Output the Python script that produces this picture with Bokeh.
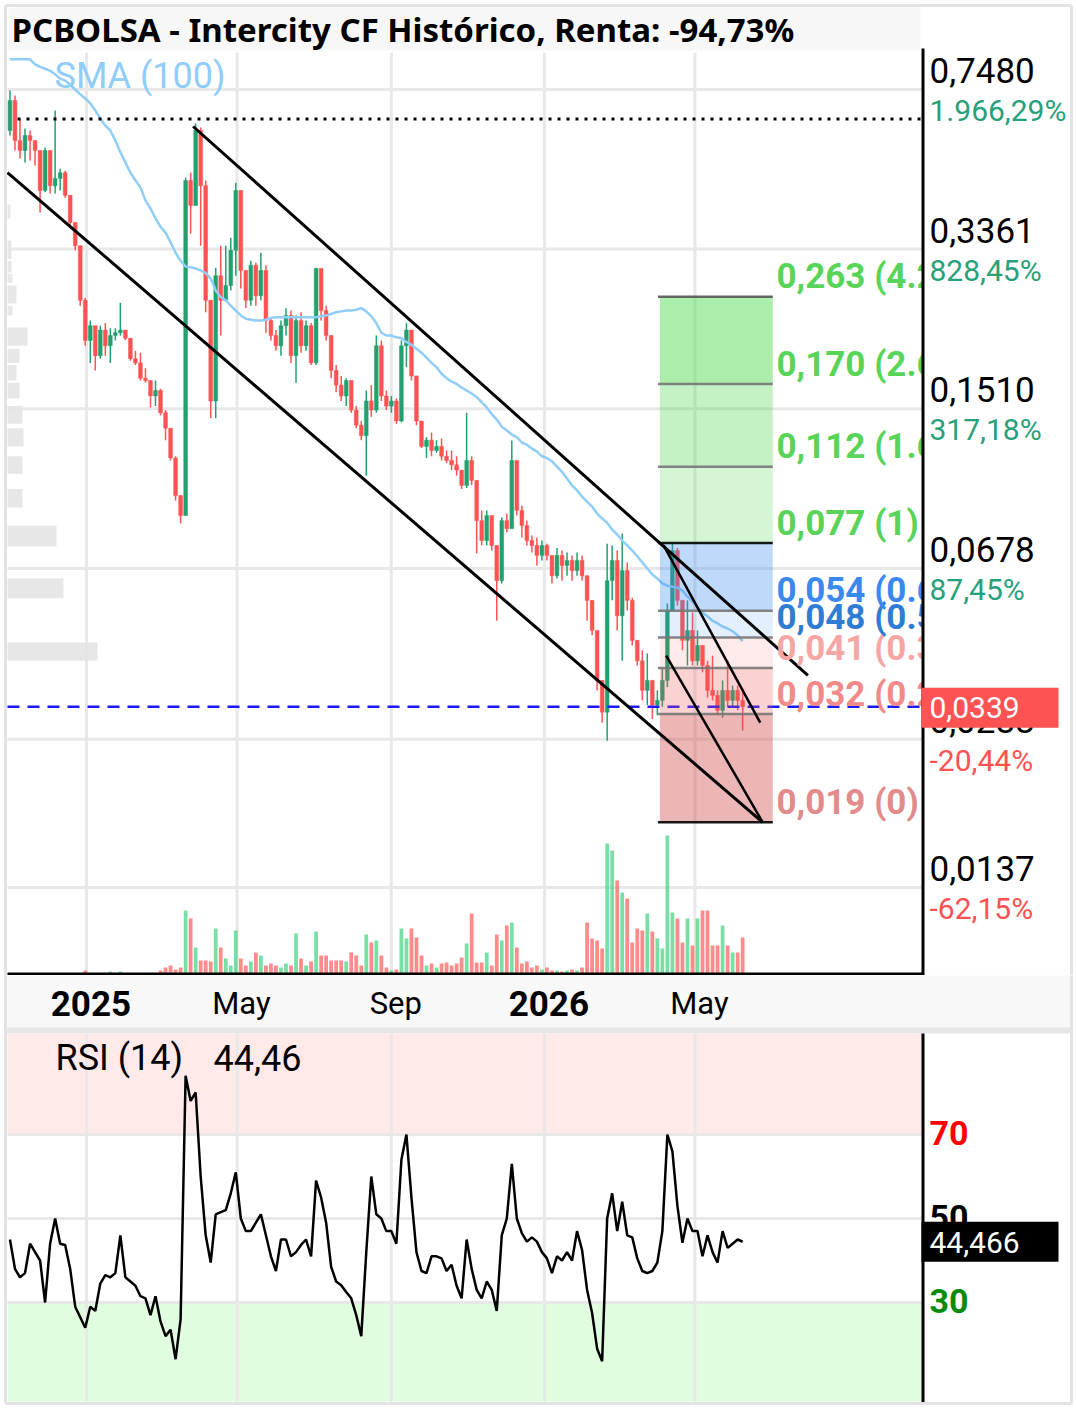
import math
import pandas as pd
from bokeh.plotting import figure
from bokeh.layouts import column
from bokeh.models import Range1d, LinearScale, LogScale
from bokeh.core.properties import value
from bokeh.embed import file_html
from bokeh.resources import INLINE

# ---------------- chart data ----------------
TITLE = "PCBOLSA - Intercity CF Histórico, Renta: -94,73%"
candle_start = "2024-11-01"
candle_step = "4D"
first_open = 0.609

close = [
    0.708, 0.579, 0.551, 0.594, 0.579, 0.551, 0.451, 0.551, 0.462, 0.479,
    0.493, 0.440, 0.384, 0.342, 0.260, 0.2126, 0.229, 0.197, 0.224, 0.207,
    0.218, 0.221, 0.224, 0.215, 0.194, 0.190, 0.176, 0.174, 0.161, 0.1655,
    0.148, 0.137, 0.118, 0.0977, 0.0884, 0.474, 0.418, 0.609, 0.462, 0.260,
    0.157, 0.294, 0.260, 0.280, 0.334, 0.451, 0.302, 0.260, 0.310, 0.266,
    0.302, 0.235, 0.218, 0.207, 0.229, 0.241, 0.197, 0.235, 0.207, 0.229,
    0.190, 0.305, 0.247, 0.218, 0.183, 0.170, 0.161, 0.174, 0.150, 0.139,
    0.132, 0.157, 0.150, 0.207, 0.161, 0.153, 0.157, 0.142, 0.207, 0.224,
    0.178, 0.142, 0.125, 0.129, 0.1225, 0.125, 0.119, 0.1165, 0.114, 0.111,
    0.1028, 0.1165, 0.1054, 0.0862, 0.078, 0.0884, 0.0761, 0.0638, 0.0862, 0.0828,
    0.1165, 0.0907, 0.0841, 0.078, 0.0761, 0.0724, 0.0761, 0.0724, 0.0654, 0.0724,
    0.0688, 0.0706, 0.0671, 0.0706, 0.0654, 0.0578, 0.0497, 0.0387, 0.0330, 0.0638,
    0.0706, 0.0535, 0.0671, 0.0578, 0.0473, 0.0427, 0.0368, 0.0387, 0.0342, 0.035,
    0.0387, 0.0549, 0.0742, 0.0578, 0.0473, 0.0497, 0.0427, 0.0461, 0.0417, 0.0368,
    0.0359, 0.0333, 0.0368, 0.035, 0.0368, 0.035, 0.0339,
]
high = [
    0.744, 0.726, 0.647, 0.615, 0.609, 0.579, 0.511, 0.559, 0.551, 0.673,
    0.503, 0.498, 0.440, 0.384, 0.342, 0.263, 0.235, 0.229, 0.229, 0.232,
    0.226, 0.226, 0.257, 0.224, 0.215, 0.202, 0.200, 0.185, 0.171, 0.174,
    0.167, 0.150, 0.129, 0.119, 0.0977, 0.481, 0.493, 0.631, 0.618, 0.474,
    0.260, 0.306, 0.342, 0.342, 0.356, 0.469, 0.429, 0.302, 0.317, 0.314,
    0.330, 0.310, 0.238, 0.224, 0.235, 0.250, 0.247, 0.241, 0.245, 0.235,
    0.232, 0.306, 0.299, 0.253, 0.218, 0.188, 0.178, 0.176, 0.170, 0.153,
    0.142, 0.1655, 0.170, 0.218, 0.2126, 0.1655, 0.161, 0.159, 0.2126, 0.232,
    0.224, 0.178, 0.142, 0.131, 0.134, 0.129, 0.130, 0.1225, 0.1225, 0.119,
    0.111, 0.148, 0.119, 0.103, 0.0907, 0.0907, 0.0884, 0.0761, 0.0875, 0.0893,
    0.1288, 0.1165, 0.093, 0.0862, 0.080, 0.0792, 0.078, 0.0768, 0.0724, 0.0751,
    0.0742, 0.0735, 0.0724, 0.0735, 0.0724, 0.0654, 0.0578, 0.0497, 0.0387, 0.0768,
    0.0761, 0.0742, 0.0808, 0.0699, 0.0586, 0.0473, 0.045, 0.0443, 0.0381, 0.0368,
    0.0413, 0.0569, 0.0768, 0.0751, 0.0578, 0.0578, 0.0544, 0.0497, 0.0461, 0.0427,
    0.0438, 0.0368, 0.0387, 0.0427, 0.0377, 0.0377, 0.0372,
]
low = [
    0.594, 0.551, 0.529, 0.519, 0.524, 0.511, 0.404, 0.447, 0.444, 0.444,
    0.451, 0.435, 0.378, 0.334, 0.253, 0.207, 0.190, 0.183, 0.194, 0.197,
    0.190, 0.2126, 0.218, 0.213, 0.192, 0.188, 0.174, 0.172, 0.152, 0.153,
    0.146, 0.129, 0.1165, 0.0953, 0.085, 0.0884, 0.363, 0.429, 0.342, 0.245,
    0.144, 0.144, 0.218, 0.273, 0.273, 0.294, 0.276, 0.250, 0.253, 0.253,
    0.260, 0.221, 0.2126, 0.202, 0.197, 0.218, 0.190, 0.172, 0.200, 0.202,
    0.188, 0.188, 0.235, 0.2126, 0.176, 0.164, 0.157, 0.153, 0.148, 0.137,
    0.129, 0.108, 0.145, 0.148, 0.157, 0.150, 0.148, 0.140, 0.141, 0.186,
    0.174, 0.139, 0.124, 0.118, 0.119, 0.121, 0.1165, 0.115, 0.111, 0.108,
    0.101, 0.1015, 0.103, 0.0731, 0.0761, 0.0761, 0.0742, 0.0522, 0.0629, 0.0812,
    0.0907, 0.0884, 0.0792, 0.0761, 0.0735, 0.0688, 0.0706, 0.0706, 0.0629, 0.0645,
    0.0638, 0.0654, 0.0638, 0.0654, 0.0638, 0.0522, 0.0485, 0.0368, 0.0313, 0.0286,
    0.0578, 0.0497, 0.0427, 0.0549, 0.0461, 0.0417, 0.035, 0.0342, 0.0319, 0.0325,
    0.0339, 0.0374, 0.0549, 0.0563, 0.045, 0.0417, 0.0417, 0.0417, 0.0403, 0.0355,
    0.035, 0.0325, 0.0321, 0.0339, 0.0337, 0.0333, 0.0301,
]
volume = [
    0, 0, 0, 0, 0, 0, 0, 0, 0, 0,
    0, 0, 0, 0, 0, 5, 0, 0, 0, 0,
    4, 0, 4, 0, 0, 0, 0, 0, 0, 0,
    5, 8, 10, 6, 8, 65, 57, 28, 15, 15,
    14, 47, 28, 17, 10, 45, 17, 10, 14, 23,
    20, 10, 12, 10, 8, 12, 10, 42, 17, 10,
    14, 44, 20, 20, 15, 15, 15, 14, 23, 20,
    10, 41, 33, 35, 20, 8, 5, 6, 47, 37,
    47, 38, 20, 10, 12, 8, 12, 13, 10, 12,
    18, 32, 62, 13, 13, 23, 10, 41, 35, 50,
    53, 28, 12, 14, 8, 10, 6, 8, 5, 5,
    4, 5, 6, 5, 8, 53, 37, 35, 27, 132,
    125, 95, 83, 77, 33, 47, 45, 62, 44, 37,
    27, 140, 63, 57, 33, 57, 30, 57, 65, 65,
    30, 30, 50, 30, 23, 23, 38,
]
rsi = [
    45, 38, 36, 37, 44, 42, 40, 30, 44, 50,
    44, 43.7, 38, 29, 26.5, 24, 29, 28, 34.5, 36.5,
    36, 37, 46, 36, 35, 34, 31.5, 31, 27, 31.5,
    25.5, 22, 23.5, 16.5, 26, 84, 78, 80, 60, 46,
    39.5, 51, 51.5, 52, 56, 61, 50, 47, 47, 49,
    51, 46, 41, 37.5, 45, 45, 41, 42, 43.7, 45,
    41, 59, 55, 49, 38.5, 35, 34.1, 32.5, 31, 27,
    22, 42, 60, 51, 50, 47, 47, 44, 64, 70,
    55, 42, 37.5, 37, 41, 41, 40.5, 37.5, 39, 34,
    31, 45, 38, 33, 31, 35, 33, 28, 46, 50,
    63, 50, 46.5, 44.5, 45.5, 44.5, 42, 40.5, 37, 41,
    40, 42, 40, 47, 42.5, 33, 27.5, 19, 16, 50,
    56, 47, 54, 46, 45.5, 40.5, 37.5, 37, 37.5, 39.5,
    47, 70, 66, 53, 44.2, 50, 47, 47, 41, 46,
    42, 39.5, 47, 43, 44, 45, 44.466,
]
sma100 = [
    0.870, 0.870, 0.870, 0.870, 0.870, 0.848, 0.838, 0.830, 0.822, 0.807,
    0.790, 0.782, 0.767, 0.748, 0.730, 0.715, 0.698, 0.673, 0.647, 0.624,
    0.609, 0.579, 0.546, 0.519, 0.493, 0.474, 0.458, 0.429, 0.412, 0.392,
    0.376, 0.365, 0.348, 0.330, 0.317, 0.308, 0.307, 0.305, 0.302, 0.298,
    0.290, 0.273, 0.264, 0.260, 0.253, 0.247, 0.241, 0.237, 0.236, 0.235,
    0.235, 0.236, 0.238, 0.239, 0.239, 0.239, 0.239, 0.239, 0.239, 0.239,
    0.239, 0.239, 0.240, 0.241, 0.243, 0.245, 0.246, 0.247, 0.247, 0.248,
    0.250, 0.246, 0.240, 0.232, 0.221, 0.218, 0.218, 0.216, 0.215, 0.211,
    0.208, 0.204, 0.200, 0.195, 0.190, 0.186, 0.180, 0.176, 0.173, 0.171,
    0.168, 0.1655, 0.163, 0.160, 0.156, 0.152, 0.147, 0.143, 0.138, 0.1354,
    0.1327, 0.131, 0.1275, 0.126, 0.1237, 0.122, 0.119, 0.118, 0.116, 0.113,
    0.110, 0.1065, 0.1028, 0.1003, 0.0972, 0.0948, 0.0925, 0.0893, 0.0871, 0.0853,
    0.0824, 0.0804, 0.078, 0.0761, 0.0742, 0.0721, 0.0699, 0.0678, 0.0658, 0.0645,
    0.0629, 0.0622, 0.0619, 0.0616, 0.0607, 0.0589, 0.0575, 0.0558, 0.0544, 0.0533,
    0.0522, 0.0515, 0.0507, 0.0502, 0.0495, 0.0485, 0.0471,
]

# volume-by-price profile at the left edge
vp_top = [0.420, 0.351, 0.317, 0.297, 0.280, 0.253, 0.227, 0.204, 0.188, 0.172,
          0.153, 0.137, 0.119, 0.101, 0.084, 0.0645, 0.0468]
vp_bottom = [0.392, 0.320, 0.299, 0.284, 0.256, 0.241, 0.207, 0.190, 0.174, 0.159,
             0.140, 0.125, 0.109, 0.092, 0.0757, 0.0584, 0.0427]
vp_volume = [3, 4, 4, 5, 9, 5, 20, 12, 9, 12, 15, 16, 15, 15, 49, 56, 90]

# right price axis
tick_prices = [0.748, 0.3361, 0.151, 0.0678, 0.0288, 0.0137]
tick_labels = ["0,7480", "0,3361", "0,1510", "0,0678", "0,0288", "0,0137"]
tick_pcts = ["1.966,29%", "828,45%", "317,18%", "87,45%", "-20,44%", "-62,15%"]
last_price = 0.0339
last_label = "0,0339"
prev_high_line = 0.645

# time axis
month_ticks = ["2025-01-01", "2025-05-01", "2025-09-01", "2026-01-01", "2026-05-01"]
month_labels = ["2025", "May", "Sep", "2026", "May"]
month_bold = [True, False, False, True, False]

# fibonacci extension tool
fib_low, fib_high = 0.019, 0.077
fib_ratios = [0, 0.236, 0.382, 0.5, 0.618, 1, 1.618, 2.618, 4.236]
fib_labels = ["0,019 (0)", "0,032 (0.236)", "0,041 (0.382)", "0,048 (0.5)",
              "0,054 (0.618)", "0,077 (1)", "0,112 (1.618)", "0,170 (2.618)",
              "0,263 (4.236)"]
fib_text_colors = ["#e38a8a", "#f28a8a", "#f7a6a6", "#2f7cd4", "#3b88f0",
                   "#58d458", "#58d458", "#58d458", "#58d458"]
fib_line_colors = ["black", "#777777", "#777777", "#777777", "#777777",
                   "black", "#777777", "#777777", "#555555"]
fib_zone_colors = ["#d04848", "#f05a5a", "#f05a5a", "#3d8cf0", "#3d8cf0",
                   "#4cd94c", "#4cd94c", "#4cd94c"]
fib_zone_alpha = [0.40, 0.27, 0.13, 0.14, 0.33, 0.24, 0.33, 0.47]
fib_start, fib_end = "2026-04-03", "2026-07-02"

# drawn trend lines: (date0, price0, date1, price1, width)
trend_lines = [
    ("2025-03-27", 0.6214, "2026-07-30", 0.0397, 3),
    ("2024-10-30", 0.4932, "2026-06-24", 0.0190, 3),
    ("2026-04-06", 0.0761, "2026-06-22", 0.0313, 2.5),
    ("2026-04-08", 0.0438, "2026-06-24", 0.0190, 2.5),
]

rsi_levels = [70, 50, 30]
rsi_level_colors = ["#ff0000", "black", "#0a8c0a"]
rsi_title = "RSI (14)"
rsi_legend_value = "44,46"
rsi_last_label = "44,466"

# ---------------- helpers ----------------
assert len(close) == len(high) == len(low) == len(volume) == len(rsi) == len(sma100)
origin = pd.Timestamp("2025-01-01")


def day_of(s):
    return (pd.Timestamp(s) - origin).days


dates = pd.date_range(candle_start, periods=len(close), freq=candle_step)
days = [(d - origin).days for d in dates]
month_days = [day_of(s) for s in month_ticks]

W, H1, H2 = 1076, 975, 434
PXD, X0PX = 1.2546, 86.0
Y_REF, P_REF, PX_DEC = 89.0, 0.748, 459.4


def X(px):
    return (px - X0PX) / PXD


def P(py):
    return P_REF * 10 ** (-(py - Y_REF) / PX_DEC)


def PY(p):
    return Y_REF - PX_DEC * math.log10(p / P_REF)


def R(py):
    return 50 + (1218 - py) / 4.2


def RY(r):
    return 1218 - (r - 50) * 4.2


def txt(fig, x, y, s, size, color, style="normal", align="left", font="Roboto"):
    fig.text(x=[x], y=[y], text=[s], text_font=value(font), text_font_size=f"{size}px",
             text_color=color, text_font_style=style, text_align=align,
             text_baseline="middle")


GRID = "#e8e8e8"
UP, DOWN = "#22a06e", "#ff5252"

# ---------------- main price figure ----------------
xr = Range1d(X(0), X(W))
p = figure(width=W, height=H1, x_range=xr, y_range=Range1d(P(H1), P(0)),
           y_axis_type="log", x_axis_location=None, y_axis_location=None,
           toolbar_location=None, output_backend="svg", min_border=0,
           outline_line_color=None, background_fill_color="white",
           border_fill_color="white")
p.y_scale = LogScale()
p.grid.visible = False
p.extra_y_ranges = {"vol": Range1d(0, H1)}
p.extra_y_scales = {"vol": LinearScale()}
p.extra_x_ranges = {"vp": Range1d(-7, W - 7)}
p.extra_x_scales = {"vp": LinearScale()}

# title bar
p.quad(left=X(8), right=X(920), top=P(7), bottom=P(50), fill_color="#f7f7f7", line_color=None)
txt(p, X(11), P(29), TITLE, 33, "black", "bold", font="Noto Sans")

# grid
p.segment(x0=[X(7)] * len(tick_prices), y0=tick_prices, x1=[X(922)] * len(tick_prices),
          y1=tick_prices, line_color=GRID, line_width=3)
p.segment(x0=month_days, y0=[P(52)] * 5, x1=month_days, y1=[P(973)] * 5,
          line_color=GRID, line_width=3)

# volume profile
p.quad(left=[0] * len(vp_volume), right=vp_volume, top=vp_top, bottom=vp_bottom,
       x_range_name="vp", fill_color="#e4e4e4", fill_alpha=0.9, line_color=None)

# candles
opens = [first_open] + close[:-1]
colors = [UP if c >= o else DOWN for o, c in zip(opens, close)]
hi = [max(h, o, c) for h, o, c in zip(high, opens, close)]
lo = [min(l_, o, c) for l_, o, c in zip(low, opens, close)]
top = [max(o, c) for o, c in zip(opens, close)]
bot = [min(o, c) for o, c in zip(opens, close)]

vcolors = ["#3fd27f" if c == UP else "#ff5a5a" for c in colors]
p.vbar(x=days, top=volume, bottom=0, width=3.0, y_range_name="vol",
       fill_color=vcolors, fill_alpha=0.7, line_color=None)

p.segment(x0=days, y0=lo, x1=days, y1=hi, line_color=colors, line_width=1.5)
p.vbar(x=days, top=top, bottom=bot, width=3.0, fill_color=colors, line_color=colors,
       line_width=0.5)

# SMA
p.line(days, sma100, line_color="#90cdf9", line_width=2.5)

# reference lines
p.segment(x0=[X(17)], y0=[prev_high_line], x1=[X(922)], y1=[prev_high_line],
          line_color="black", line_width=3, line_dash="3 6")
p.segment(x0=[X(7)], y0=[last_price], x1=[X(920)], y1=[last_price],
          line_color="#1a1aff", line_width=2.5, line_dash="12 8")

# fibonacci tool
fib_levels = [fib_low + r * (fib_high - fib_low) for r in fib_ratios]
fs, fe = day_of(fib_start), day_of(fib_end)
for i in range(len(fib_levels) - 1):
    p.quad(left=[fs], right=[fe], bottom=[fib_levels[i]], top=[fib_levels[i + 1]],
           fill_color=fib_zone_colors[i], fill_alpha=fib_zone_alpha[i], line_color=None)
for lvl, lc in zip(fib_levels, fib_line_colors):
    p.segment(x0=[fs - 1.5], y0=[lvl], x1=[fe], y1=[lvl], line_color=lc, line_width=2.5,
              line_alpha=0.9)

# trend lines
for d0, p0, d1, p1, lw in trend_lines:
    p.segment(x0=[day_of(d0)], y0=[p0], x1=[day_of(d1)], y1=[p1], line_color="black",
              line_width=lw)

for lvl, lab, tc in zip(fib_levels, fib_labels, fib_text_colors):
    txt(p, X(776), P(PY(lvl) - 20), lab, 35, tc, "bold")

txt(p, X(54), P(75), "SMA (100)", 36, "#90cdf9")

# right axis panel
p.quad(left=X(923), right=X(W), top=P(48), bottom=P(H1), fill_color="white", line_color=None)
p.segment(x0=[X(922.5)], y0=[P(48)], x1=[X(922.5)], y1=[P(H1)], line_color="black",
          line_width=3)
p.segment(x0=[X(7)], y0=[P(973.5)], x1=[X(922)], y1=[P(973.5)], line_color="black",
          line_width=3)
for tp, lab, pct in zip(tick_prices, tick_labels, tick_pcts):
    gy = PY(tp)
    txt(p, X(929), P(gy - 19), lab, 35, "black")
    txt(p, X(929), P(gy + 21), pct, 30, DOWN if pct.startswith("-") else "#26a17a")
ly = PY(last_price)
p.quad(left=X(921), right=X(1058), top=P(ly - 19), bottom=P(ly + 21), fill_color="#ff5252",
       line_color=None)
txt(p, X(929), P(ly + 1), last_label, 30, "white")

# outer frame
p.segment(x0=[X(5), X(1071), X(5)], y0=[P(5), P(5), P(5)],
          x1=[X(5), X(1071), X(1071)], y1=[P(H1), P(H1), P(5)],
          line_color="#e3e3e3", line_width=3)

# ---------------- time strip + RSI figure ----------------
q = figure(width=W, height=H2, x_range=xr, y_range=Range1d(R(1409), R(975)),
           x_axis_location=None, y_axis_location=None, toolbar_location=None,
           output_backend="svg", min_border=0, outline_line_color=None,
           background_fill_color="white", border_fill_color="white")
q.grid.visible = False

q.quad(left=X(5), right=X(1071), top=R(975), bottom=R(1027), fill_color="#f8f8f8",
       line_color=None)
q.quad(left=X(5), right=X(1071), top=R(1027), bottom=R(1033), fill_color="#e6e6e6",
       line_color=None)
q.quad(left=X(7), right=X(922), top=R(1033), bottom=70, fill_color="#ffe9e9", line_color=None)
q.quad(left=X(7), right=X(922), top=30, bottom=R(1401), fill_color="#e0fde0", line_color=None)
q.segment(x0=[X(7)] * 3, y0=rsi_levels, x1=[X(922)] * 3, y1=rsi_levels,
          line_color=GRID, line_width=3)
q.segment(x0=month_days, y0=[R(1033)] * 5, x1=month_days, y1=[R(1401)] * 5,
          line_color=GRID, line_width=3)

for md, lab, b in zip(month_days, month_labels, month_bold):
    txt(q, md + 3.5, R(1003), lab, 35 if b else 31, "black", "bold" if b else "normal",
        align="center")

q.line(days, rsi, line_color="black", line_width=2.5)

q.segment(x0=[X(922.5)], y0=[R(1033)], x1=[X(922.5)], y1=[R(1403)], line_color="black",
          line_width=3)
for lvl, lc in zip(rsi_levels, rsi_level_colors):
    txt(q, X(929), R(RY(lvl) - 2), str(lvl), 34, lc, "bold")
ry = RY(rsi[-1])
q.quad(left=X(921), right=X(1058), top=R(ry - 20), bottom=R(ry + 20), fill_color="black",
       line_color=None)
txt(q, X(929), R(ry + 1), rsi_last_label, 30, "white")

txt(q, X(55), R(1057), rsi_title, 36, "black")
txt(q, X(213), R(1057), rsi_legend_value, 36, "black")

q.segment(x0=[X(5), X(1071), X(5)], y0=[R(975), R(975), R(1403)],
          x1=[X(5), X(1071), X(1071)], y1=[R(1403), R(1403), R(1403)],
          line_color="#e3e3e3", line_width=3)

layout = column(p, q, spacing=0)
open("out.html", "w").write(file_html(layout, INLINE))
